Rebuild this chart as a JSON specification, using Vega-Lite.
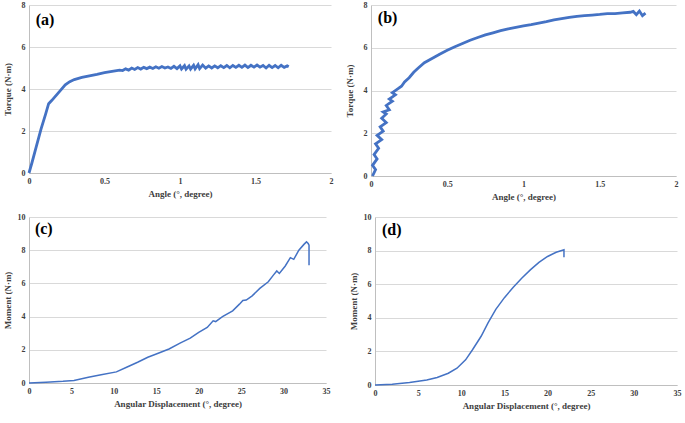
{
  "$schema": "https://vega.github.io/schema/vega-lite/v6.json",
  "padding": {"left": 3, "top": 1, "right": 2, "bottom": 2},
  "background": "white",
  "config": {
    "view": {"stroke": null},
    "font": "Liberation Serif",
    "axis": {"labelFont": "Liberation Serif", "labelFontWeight": "bold", "labelFontSize": 8, "labelColor": "#404040", "titleFont": "Liberation Serif", "titleFontWeight": "bold", "titleFontSize": 9, "titleColor": "#404040", "ticks": false, "domainColor": "#bfbfbf", "gridColor": "#d9d9d9", "labelPadding": 4, "labelOverlap": false, "labelExpr": "'' + datum.value"},
    "axisX": {"grid": false, "titlePadding": 4, "labelFlush": false},
    "axisY": {"grid": true, "minExtent": 13, "maxExtent": 13, "titlePadding": 4},
    "concat": {"spacing": 12}
  },
  "datasets": {
    "a": [{"x":0,"y":0},{"x":0.02,"y":0.5},{"x":0.05,"y":1.3},{"x":0.08,"y":2.1},{"x":0.11,"y":2.8},{"x":0.13,"y":3.3},{"x":0.15,"y":3.45},{"x":0.18,"y":3.7},{"x":0.21,"y":3.95},{"x":0.24,"y":4.2},{"x":0.27,"y":4.35},{"x":0.3,"y":4.45},{"x":0.35,"y":4.55},{"x":0.4,"y":4.63},{"x":0.45,"y":4.7},{"x":0.5,"y":4.78},{"x":0.55,"y":4.84},{"x":0.6,"y":4.9},{"x":0.62,"y":4.88},{"x":0.64,"y":4.96},{"x":0.66,"y":4.9},{"x":0.68,"y":5.0},{"x":0.7,"y":4.93},{"x":0.72,"y":5.02},{"x":0.74,"y":4.95},{"x":0.76,"y":5.03},{"x":0.78,"y":4.97},{"x":0.8,"y":5.04},{"x":0.82,"y":4.98},{"x":0.84,"y":5.06},{"x":0.86,"y":4.99},{"x":0.88,"y":5.07},{"x":0.9,"y":5.0},{"x":0.92,"y":5.05},{"x":0.94,"y":4.98},{"x":0.96,"y":5.08},{"x":0.98,"y":4.97},{"x":1.0,"y":5.1},{"x":1.01,"y":4.95},{"x":1.03,"y":5.11},{"x":1.04,"y":4.94},{"x":1.06,"y":5.1},{"x":1.07,"y":4.95},{"x":1.09,"y":5.13},{"x":1.1,"y":4.96},{"x":1.12,"y":5.16},{"x":1.13,"y":4.97},{"x":1.15,"y":5.14},{"x":1.17,"y":4.99},{"x":1.19,"y":5.1},{"x":1.21,"y":5.0},{"x":1.23,"y":5.1},{"x":1.25,"y":5.01},{"x":1.27,"y":5.11},{"x":1.29,"y":5.02},{"x":1.31,"y":5.12},{"x":1.33,"y":5.01},{"x":1.35,"y":5.12},{"x":1.37,"y":5.03},{"x":1.39,"y":5.13},{"x":1.41,"y":5.03},{"x":1.43,"y":5.14},{"x":1.45,"y":5.02},{"x":1.47,"y":5.13},{"x":1.49,"y":5.04},{"x":1.51,"y":5.14},{"x":1.53,"y":5.04},{"x":1.55,"y":5.12},{"x":1.57,"y":5.0},{"x":1.59,"y":5.13},{"x":1.61,"y":5.02},{"x":1.63,"y":5.12},{"x":1.65,"y":5.01},{"x":1.67,"y":5.13},{"x":1.69,"y":5.03},{"x":1.71,"y":5.1},{"x":1.72,"y":5.06}],
    "b": [{"x":0.01,"y":0},{"x":0.03,"y":0.3},{"x":0.01,"y":0.5},{"x":0.04,"y":0.8},{"x":0.02,"y":1.0},{"x":0.05,"y":1.3},{"x":0.03,"y":1.5},{"x":0.07,"y":1.7},{"x":0.04,"y":1.9},{"x":0.08,"y":2.1},{"x":0.06,"y":2.3},{"x":0.1,"y":2.5},{"x":0.07,"y":2.7},{"x":0.1,"y":2.9},{"x":0.08,"y":3.0},{"x":0.12,"y":3.1},{"x":0.1,"y":3.3},{"x":0.14,"y":3.5},{"x":0.12,"y":3.6},{"x":0.16,"y":3.8},{"x":0.14,"y":3.9},{"x":0.18,"y":4.1},{"x":0.2,"y":4.2},{"x":0.22,"y":4.4},{"x":0.25,"y":4.6},{"x":0.28,"y":4.85},{"x":0.31,"y":5.05},{"x":0.35,"y":5.3},{"x":0.4,"y":5.5},{"x":0.45,"y":5.7},{"x":0.5,"y":5.88},{"x":0.55,"y":6.05},{"x":0.6,"y":6.2},{"x":0.65,"y":6.35},{"x":0.7,"y":6.48},{"x":0.75,"y":6.6},{"x":0.8,"y":6.7},{"x":0.85,"y":6.8},{"x":0.9,"y":6.88},{"x":0.95,"y":6.95},{"x":1.0,"y":7.02},{"x":1.05,"y":7.08},{"x":1.1,"y":7.15},{"x":1.15,"y":7.22},{"x":1.2,"y":7.3},{"x":1.25,"y":7.36},{"x":1.3,"y":7.42},{"x":1.35,"y":7.47},{"x":1.4,"y":7.5},{"x":1.45,"y":7.53},{"x":1.5,"y":7.56},{"x":1.55,"y":7.6},{"x":1.6,"y":7.6},{"x":1.65,"y":7.63},{"x":1.7,"y":7.66},{"x":1.72,"y":7.7},{"x":1.74,"y":7.55},{"x":1.76,"y":7.72},{"x":1.78,"y":7.5},{"x":1.8,"y":7.62}],
    "c": [{"x":0,"y":0},{"x":2,"y":0.05},{"x":4,"y":0.1},{"x":5.3,"y":0.15},{"x":7,"y":0.35},{"x":8.5,"y":0.5},{"x":10.3,"y":0.67},{"x":11.5,"y":0.95},{"x":12.8,"y":1.25},{"x":14,"y":1.55},{"x":15,"y":1.75},{"x":16.5,"y":2.05},{"x":17.8,"y":2.4},{"x":19,"y":2.7},{"x":20,"y":3.05},{"x":21,"y":3.35},{"x":21.7,"y":3.75},{"x":22,"y":3.7},{"x":22.8,"y":4.0},{"x":24,"y":4.35},{"x":24.8,"y":4.75},{"x":25.2,"y":4.97},{"x":25.6,"y":5.0},{"x":26.3,"y":5.25},{"x":27.2,"y":5.7},{"x":28.2,"y":6.1},{"x":28.8,"y":6.5},{"x":29.2,"y":6.75},{"x":29.5,"y":6.6},{"x":30.2,"y":7.05},{"x":30.8,"y":7.55},{"x":31.2,"y":7.45},{"x":31.8,"y":8.0},{"x":32.4,"y":8.35},{"x":32.7,"y":8.5},{"x":32.9,"y":8.4},{"x":33.0,"y":8.3},{"x":33.0,"y":7.1}],
    "d": [{"x":0,"y":0},{"x":2,"y":0.05},{"x":4,"y":0.15},{"x":6,"y":0.3},{"x":7.2,"y":0.45},{"x":8.5,"y":0.7},{"x":9.5,"y":1.0},{"x":10.5,"y":1.5},{"x":11.3,"y":2.1},{"x":12.3,"y":2.9},{"x":13.1,"y":3.7},{"x":14,"y":4.5},{"x":15,"y":5.2},{"x":16,"y":5.8},{"x":17,"y":6.35},{"x":18,"y":6.85},{"x":19,"y":7.3},{"x":20,"y":7.65},{"x":21,"y":7.9},{"x":21.9,"y":8.05},{"x":21.9,"y":7.6}],
    "one": [{}]
  },
  "vconcat": [
    {"hconcat": [
      {"width": 302, "height": 168, "layer": [
        {"data": {"name": "a"}, "mark": {"type": "line", "color": "#4472C4", "strokeWidth": 2.8}, "encoding": {
          "x": {"field": "x", "type": "quantitative", "scale": {"domain": [0, 2]}, "axis": {"tickCount": 4, "title": "Angle (°, degree)"}},
          "y": {"field": "y", "type": "quantitative", "scale": {"domain": [0, 8]}, "axis": {"tickCount": 4, "title": "Torque (N·m)"}},
          "order": {"value": null}}},
        {"data": {"name": "one"}, "mark": {"type": "text", "text": "(a)", "font": "Liberation Serif", "fontWeight": "bold", "fontSize": 16, "align": "left", "baseline": "middle", "color": "black"}, "encoding": {
          "x": {"datum": 0.045, "type": "quantitative", "axis": {"tickCount": 4, "title": "Angle (°, degree)"}},
          "y": {"datum": 7.3, "type": "quantitative", "axis": {"tickCount": 4, "title": "Torque (N·m)"}}}}
      ]},
      {"width": 305, "height": 171, "layer": [
        {"data": {"name": "b"}, "mark": {"type": "line", "color": "#4472C4", "strokeWidth": 2.8}, "encoding": {
          "x": {"field": "x", "type": "quantitative", "scale": {"domain": [0, 2]}, "axis": {"tickCount": 4, "title": "Angle (°, degree)"}},
          "y": {"field": "y", "type": "quantitative", "scale": {"domain": [0, 8]}, "axis": {"tickCount": 4, "title": "Torque (N·m)"}},
          "order": {"value": null}}},
        {"data": {"name": "one"}, "mark": {"type": "text", "text": "(b)", "font": "Liberation Serif", "fontWeight": "bold", "fontSize": 16, "align": "left", "baseline": "middle", "color": "black"}, "encoding": {
          "x": {"datum": 0.045, "type": "quantitative", "axis": {"tickCount": 4, "title": "Angle (°, degree)"}},
          "y": {"datum": 7.4, "type": "quantitative", "axis": {"tickCount": 4, "title": "Torque (N·m)"}}}}
      ]}
    ]},
    {"spacing": 19, "hconcat": [
      {"width": 297, "height": 166, "layer": [
        {"data": {"name": "c"}, "mark": {"type": "line", "color": "#4472C4", "strokeWidth": 1.5}, "encoding": {
          "x": {"field": "x", "type": "quantitative", "scale": {"domain": [0, 35]}, "axis": {"tickCount": 7, "title": "Angular Displacement (°, degree)"}},
          "y": {"field": "y", "type": "quantitative", "scale": {"domain": [0, 10]}, "axis": {"tickCount": 5, "title": "Moment (N·m)"}},
          "order": {"value": null}}},
        {"data": {"name": "one"}, "mark": {"type": "text", "text": "(c)", "font": "Liberation Serif", "fontWeight": "bold", "fontSize": 16, "align": "left", "baseline": "middle", "color": "black"}, "encoding": {
          "x": {"datum": 0.7, "type": "quantitative", "axis": {"tickCount": 7, "title": "Angular Displacement (°, degree)"}},
          "y": {"datum": 9.3, "type": "quantitative", "axis": {"tickCount": 5, "title": "Moment (N·m)"}}}}
      ]},
      {"width": 302, "height": 168, "layer": [
        {"data": {"name": "d"}, "mark": {"type": "line", "color": "#4472C4", "strokeWidth": 1.5}, "encoding": {
          "x": {"field": "x", "type": "quantitative", "scale": {"domain": [0, 35]}, "axis": {"tickCount": 7, "title": "Angular Displacement (°, degree)"}},
          "y": {"field": "y", "type": "quantitative", "scale": {"domain": [0, 10]}, "axis": {"tickCount": 5, "title": "Moment (N·m)"}},
          "order": {"value": null}}},
        {"data": {"name": "one"}, "mark": {"type": "text", "text": "(d)", "font": "Liberation Serif", "fontWeight": "bold", "fontSize": 16, "align": "left", "baseline": "middle", "color": "black"}, "encoding": {
          "x": {"datum": 0.8, "type": "quantitative", "axis": {"tickCount": 7, "title": "Angular Displacement (°, degree)"}},
          "y": {"datum": 9.2, "type": "quantitative", "axis": {"tickCount": 5, "title": "Moment (N·m)"}}}}
      ]}
    ]}
  ]
}
